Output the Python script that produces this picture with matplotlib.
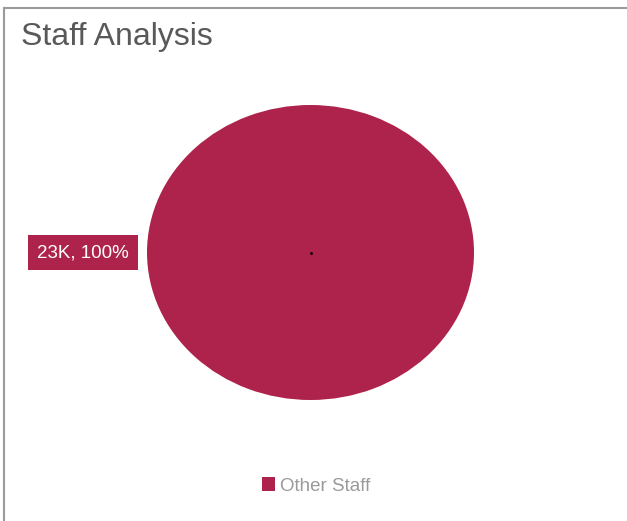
import matplotlib.pyplot as plt
from matplotlib.lines import Line2D
from matplotlib.patches import Patch

plt.rcParams['font.family'] = ['Liberation Sans', 'DejaVu Sans']

# data
categories = ["Other Staff"]
values = [23000]
labels = ["23K, 100%"]
colors = ["#AE234B"]

W, H = 627, 521
fig = plt.figure(figsize=(W / 100, H / 100), dpi=100)

# frame lines (top and left only)
fig.add_artist(Line2D([4 / W, 1], [1 - 8 / H, 1 - 8 / H], color="#9a9a9a", lw=1.5))
fig.add_artist(Line2D([4 / W, 4 / W], [0, 1 - 8 / H], color="#9a9a9a", lw=1.5))

fig.text(21 / W, 1 - 37 / H, "Staff Analysis", fontsize=23, color="#595959", va="center", ha="left")

# pie drawn into an axes stretched to an ellipse
ax = fig.add_axes([147 / W, 1 - 400 / H, 327 / W, 295 / H])
ax.pie(values, colors=colors, startangle=90, counterclock=False, radius=1.0,
       wedgeprops=dict(linewidth=0))
ax.set_aspect("auto")
ax.set_xlim(-1, 1)
ax.set_ylim(-1, 1)
ax.axis("off")
ax.plot([0], [0], marker="o", markersize=1.0, color="black")

ax.text(-1.11, 0.0, labels[0], ha="right", va="center", fontsize=13.5, color="white",
        bbox=dict(boxstyle="square,pad=0.5", fc=colors[0], ec="none"), clip_on=False)

handles = [Patch(facecolor=c, edgecolor="none") for c in colors]
fig.legend(handles, categories, loc="center", bbox_to_anchor=(316 / W, 1 - 486 / H),
           frameon=False, handlelength=0.7, handleheight=0.7, handletextpad=0.25,
           fontsize=13.5, labelcolor="#9a9a9a")

fig.savefig("out.png", dpi=100)
